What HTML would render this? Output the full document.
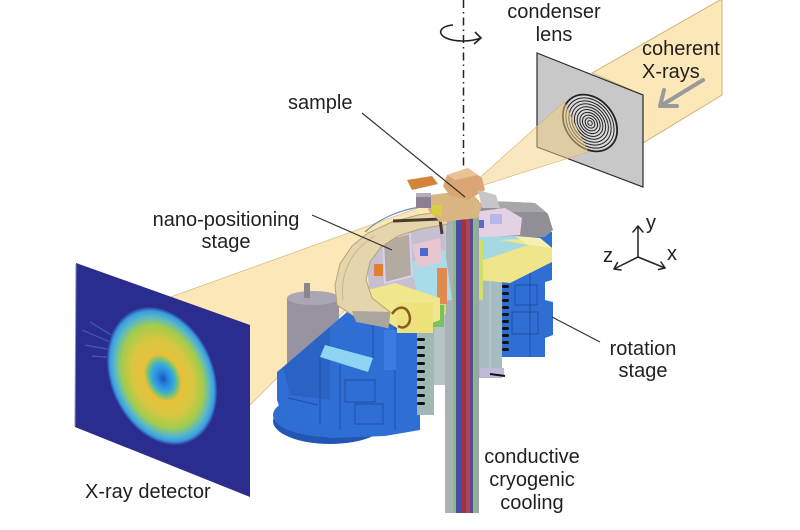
<!DOCTYPE html>
<html><head><meta charset="utf-8">
<style>
html,body{margin:0;padding:0;background:#fff;}
svg{display:block;}
text{font-family:"Liberation Sans",Arial,sans-serif;font-size:20px;fill:#231f20;}
</style></head><body>
<svg width="800" height="530" viewBox="0 0 800 530" xmlns="http://www.w3.org/2000/svg">
<defs>
<radialGradient id="diff" cx="0.5" cy="0.5" r="0.5" fx="0.52" fy="0.5">
 <stop offset="0" stop-color="#1a55bd"/>
 <stop offset="0.12" stop-color="#2a8fe0"/>
 <stop offset="0.2" stop-color="#38a8e0"/>
 <stop offset="0.26" stop-color="#6cc27c"/>
 <stop offset="0.34" stop-color="#e8c03a"/>
 <stop offset="0.55" stop-color="#d8c640"/>
 <stop offset="0.74" stop-color="#a2cc4c"/>
 <stop offset="0.86" stop-color="#58b8c8"/>
 <stop offset="0.94" stop-color="#3a9ce2"/>
 <stop offset="1" stop-color="#2b2d8e"/>
</radialGradient>
</defs>

<!-- coherent X-ray beam (right) -->
<polygon points="592,73 720,0 722,0 722,95 643,143 643,95" fill="#fbe7b8" stroke="#cdb27a" stroke-width="1"/>

<!-- beam to detector -->
<polygon points="165,299 465,191 250,405 160,405" fill="#fbe7b8" stroke="#d6bd88" stroke-width="0.8"/>

<!-- detector -->
<polygon points="76,263 250,325 250,497 75,427" fill="#2b2d8e"/>
<line x1="76" y1="264" x2="75" y2="426" stroke="#8a8cc0" stroke-width="1"/>
<g stroke="#4a86d6" stroke-opacity="0.55" stroke-width="1.2">
 <line x1="110" y1="342" x2="82" y2="330"/>
 <line x1="112" y1="350" x2="85" y2="345"/>
 <line x1="113" y1="336" x2="90" y2="322"/>
 <line x1="115" y1="358" x2="92" y2="356"/>
</g>
<ellipse cx="0" cy="0" rx="72" ry="52" transform="translate(162,376) rotate(67)" fill="url(#diff)"/>

<!-- condenser lens panel -->
<polygon points="537,53 643,95 643,187 537,147" fill="#c8c8c8" stroke="#2a2a2a" stroke-width="1.2"/>
<g transform="translate(590,123) rotate(50)" fill="none" stroke="#222">
 <ellipse rx="31" ry="24" fill="#d9d9d9" stroke-width="1.8"/>
 <ellipse rx="27.5" ry="21.3" stroke-width="1"/>
 <ellipse rx="24.2" ry="18.7" stroke-width="1"/>
 <ellipse rx="21" ry="16.3" stroke-width="1"/>
 <ellipse rx="17.8" ry="13.8" stroke-width="1"/>
 <ellipse rx="14.7" ry="11.4" stroke-width="1"/>
 <ellipse rx="11.6" ry="9" stroke-width="1"/>
 <ellipse rx="8.6" ry="6.7" stroke-width="1"/>
 <ellipse rx="5.6" ry="4.3" stroke-width="1"/>
 <ellipse rx="2.6" ry="2" stroke-width="1"/>
</g>
<!-- converging cone -->
<polygon points="465,191 564,102 588,152" fill="#f1cf80" fill-opacity="0.5" stroke="#d4b16c" stroke-width="0.6"/>

<!-- grey arrow -->
<g stroke="#9a9a9a" stroke-width="4" fill="none" stroke-linecap="round" stroke-linejoin="round">
 <line x1="703" y1="80" x2="662" y2="105"/>
 <polyline points="664,90 660,106 677,106"/>
</g>

<!-- rotation axis -->
<line x1="463.5" y1="0" x2="463.5" y2="196" stroke="#222" stroke-width="1.5" stroke-dasharray="8,4,1.5,4"/>
<path d="M453,25 C441,26 436,33 446,38 C455,42 470,42 481,38" fill="none" stroke="#222" stroke-width="1.6"/>
<polyline points="475,32 481,38 474,44" fill="none" stroke="#222" stroke-width="1.6"/>

<!-- ============ apparatus ============ -->
<!-- grey cylinder -->
<rect x="287" y="298" width="52" height="74" fill="#9893a0"/>
<ellipse cx="313" cy="298" rx="26" ry="7" fill="#aba7b2"/>
<rect x="304" y="283" width="6" height="15" fill="#8a8690"/>

<!-- base disk -->
<ellipse cx="330" cy="421" rx="57" ry="23" fill="#2356b4"/>
<ellipse cx="330" cy="415" rx="57" ry="22" fill="#2f6dd0"/>

<!-- main left blue body -->
<polygon points="277,372 283,367 347,312 362,318 390,300 420,298 420,430 385,436 330,438 300,428 283,418 277,400" fill="#2f6fd3"/>
<rect x="350" y="300" width="70" height="40" fill="#2f6fd3"/>
<polygon points="283,368 330,327 330,400 290,395" fill="#2a63c4"/>
<polygon points="325,345 373,358 368,372 320,357" fill="#8fd4f2"/>
<g fill="none" stroke="#1f4fa8" stroke-width="1">
 <line x1="320" y1="357" x2="320" y2="425"/>
 <line x1="340" y1="365" x2="340" y2="430"/>
 <rect x="345" y="380" width="30" height="22"/>
 <rect x="355" y="404" width="28" height="20"/>
 <line x1="373" y1="320" x2="373" y2="358"/>
 <line x1="395" y1="305" x2="395" y2="430"/>
 <line x1="288" y1="398" x2="318" y2="405"/>
</g>
<rect x="384" y="330" width="12" height="40" fill="#3a7ce0"/>

<!-- left comb panel -->
<rect x="417" y="300" width="17" height="115" fill="#9fb8b6"/>
<g fill="#111">
 <rect x="417" y="322" width="8" height="3" rx="1.5"/><rect x="417" y="330" width="8" height="3" rx="1.5"/>
 <rect x="417" y="338" width="8" height="3" rx="1.5"/><rect x="417" y="346" width="8" height="3" rx="1.5"/>
 <rect x="417" y="354" width="8" height="3" rx="1.5"/><rect x="417" y="362" width="8" height="3" rx="1.5"/>
 <rect x="417" y="370" width="8" height="3" rx="1.5"/><rect x="417" y="378" width="8" height="3" rx="1.5"/>
 <rect x="417" y="386" width="8" height="3" rx="1.5"/><rect x="417" y="394" width="8" height="3" rx="1.5"/>
 <rect x="417" y="402" width="8" height="3" rx="1.5"/>
</g>
<rect x="434" y="300" width="11" height="85" fill="#b7c4c6"/>

<!-- right blue block -->
<polygon points="500,232 552,232 552,280 545,282 545,300 553,302 553,335 545,338 545,357 502,357" fill="#2f6fd3"/>
<g fill="none" stroke="#1f4fa8" stroke-width="1">
 <rect x="515" y="285" width="22" height="20"/>
 <rect x="512" y="312" width="26" height="22"/>
 <line x1="530" y1="240" x2="530" y2="357"/>
</g>
<rect x="478" y="268" width="24" height="110" fill="#a7bcc0"/>
<line x1="490" y1="275" x2="490" y2="375" stroke="#c0d0d2" stroke-width="1"/>
<rect x="480" y="368" width="24" height="9" fill="#c2b8da"/>
<line x1="490" y1="374" x2="505" y2="376" stroke="#111" stroke-width="2"/>
<g fill="#111">
 <rect x="502" y="285" width="7" height="3" rx="1.5"/><rect x="502" y="292" width="7" height="3" rx="1.5"/>
 <rect x="502" y="299" width="7" height="3" rx="1.5"/><rect x="502" y="306" width="7" height="3" rx="1.5"/>
 <rect x="502" y="313" width="7" height="3" rx="1.5"/><rect x="502" y="320" width="7" height="3" rx="1.5"/>
 <rect x="502" y="327" width="7" height="3" rx="1.5"/><rect x="502" y="334" width="7" height="3" rx="1.5"/>
 <rect x="502" y="341" width="7" height="3" rx="1.5"/><rect x="502" y="348" width="7" height="3" rx="1.5"/>
</g>
<!-- grey roof -->
<polygon points="473,204 490,201 535,203 548,214 553,230 545,237 505,238 478,232" fill="#8f8f95"/>
<polygon points="490,201 535,203 546,212 500,212" fill="#a6a6ab"/>
<!-- pink component -->
<polygon points="473,212 505,208 522,218 520,235 478,238" fill="#e4d2e4"/>
<rect x="490" y="214" width="12" height="10" fill="#b8b8e8"/>
<rect x="478" y="220" width="6" height="8" fill="#5a6ad0"/>
<!-- teal and yellow plates right -->
<polygon points="473,237 515,236 528,245 490,262 473,258" fill="#a4d8e2"/>
<polygon points="500,240 540,238 552,248 552,262 510,283 478,280 478,262 528,245" fill="#efe68c"/>
<polygon points="515,236 540,238 552,248 528,245" fill="#f6f0b2"/>

<!-- column -->
<rect x="445" y="200" width="8" height="313" fill="#a9b1b3"/>
<rect x="453" y="200" width="3" height="313" fill="#7ec27a"/>
<rect x="456" y="200" width="6" height="313" fill="#4d4ba3"/>
<rect x="462" y="200" width="4" height="313" fill="#9c3448"/>
<rect x="466" y="200" width="4" height="313" fill="#b04454"/>
<rect x="470" y="200" width="3" height="313" fill="#5b4a94"/>
<rect x="473" y="200" width="3" height="313" fill="#7cc27c"/>
<rect x="476" y="200" width="3" height="313" fill="#9aa4a6"/>
<rect x="440" y="205" width="6" height="110" fill="#d2de6a"/>
<rect x="479" y="240" width="4" height="60" fill="#d2de6a"/>

<!-- left internals -->
<polygon points="365,240 445,222 446,300 370,300" fill="#c6bfcf"/>
<polygon points="410,262 445,250 452,300 420,305" fill="#a8dce8"/>
<rect x="437" y="268" width="10" height="36" fill="#e08a50"/>
<rect x="430" y="305" width="14" height="22" fill="#7cc060"/>
<polygon points="368,290 395,283 440,298 440,320 405,333 368,310" fill="#f0e78c"/>
<polygon points="397,303 433,303 433,333 397,333" fill="#ede27c"/>
<polygon points="383,240 410,233 412,276 385,283" fill="#b3aba0" stroke="#d8d0f2" stroke-width="2"/>
<polygon points="412,245 440,238 442,262 418,268" fill="#e8c6d0"/>
<rect x="420" y="248" width="8" height="8" fill="#4a6ad0"/>
<rect x="374" y="264" width="9" height="12" fill="#e08030"/>
<path d="M392,314 C398,305 408,305 410,318 C410,325 404,330 398,326" fill="none" stroke="#8a5a20" stroke-width="2.5"/>

<!-- beige arc (nano-positioning stage) -->
<polygon points="337,305 335,285 340,264 352,246 368,233 392,222 418,215 445,211 448,224 420,229 398,236 381,247 370,262 366,280 372,298 390,312 388,328 360,320" fill="#e5d5ad" stroke="#b6a274" stroke-width="1"/>
<polygon points="352,311 390,312 388,328 356,322" fill="#aaa59d"/>
<path d="M343,300 C340,275 350,250 375,236" fill="none" stroke="#c8b488" stroke-width="1"/>
<path d="M393,221 L440,219 L442,234" fill="none" stroke="#4a3a2a" stroke-width="3"/>
<path d="M365,232 C380,218 400,210 420,207" fill="none" stroke="#6a90c0" stroke-width="1.2"/>

<!-- top parts near sample -->
<polygon points="430,195 470,190 482,205 478,218 440,222 428,210" fill="#d9b582"/>
<polygon points="407,180 432,176 438,184 412,190" fill="#d4833a"/>
<polygon points="447,175 468,168 482,178 485,190 468,200 450,196 443,186" fill="#dba574"/>
<polygon points="447,175 468,168 478,175 455,180" fill="#e8c194"/>
<rect x="416" y="196" width="15" height="12" fill="#8e7e92"/>
<rect x="416" y="193" width="15" height="4" fill="#b8acbc"/>
<polygon points="478,190 496,195 500,208 482,208" fill="#c6c6ca"/>
<rect x="432" y="205" width="10" height="10" fill="#d4d040"/>

<!-- leader lines -->
<g stroke="#333" stroke-width="1.2">
 <line x1="362" y1="113" x2="465" y2="197"/>
 <line x1="312" y1="215" x2="392" y2="250"/>
 <line x1="552" y1="317" x2="600" y2="342"/>
</g>

<!-- axes -->
<g stroke="#222" stroke-width="1.5" fill="none" stroke-linecap="round" stroke-linejoin="round">
 <line x1="638" y1="257" x2="638" y2="226"/>
 <polyline points="633,232 638,226 643,232"/>
 <line x1="638" y1="257" x2="614" y2="269"/>
 <polyline points="617.5,262.5 614,269 621,270"/>
 <line x1="638" y1="257" x2="665" y2="268"/>
 <polyline points="661,262 665,268 658.5,269.5"/>
</g>
<text x="646" y="229">y</text>
<text x="603" y="262">z</text>
<text x="667" y="260">x</text>

<!-- labels -->
<text x="554" y="18" text-anchor="middle">condenser</text>
<text x="554" y="41" text-anchor="middle">lens</text>
<text x="642" y="55">coherent</text>
<text x="642" y="78">X-rays</text>
<text x="288" y="109">sample</text>
<text x="226" y="226" text-anchor="middle">nano-positioning</text>
<text x="226" y="248" text-anchor="middle">stage</text>
<text x="643" y="355" text-anchor="middle">rotation</text>
<text x="643" y="377" text-anchor="middle">stage</text>
<text x="532" y="463" text-anchor="middle">conductive</text>
<text x="532" y="486" text-anchor="middle">cryogenic</text>
<text x="532" y="509" text-anchor="middle">cooling</text>
<text x="85" y="498">X-ray detector</text>
</svg>
</body></html>
